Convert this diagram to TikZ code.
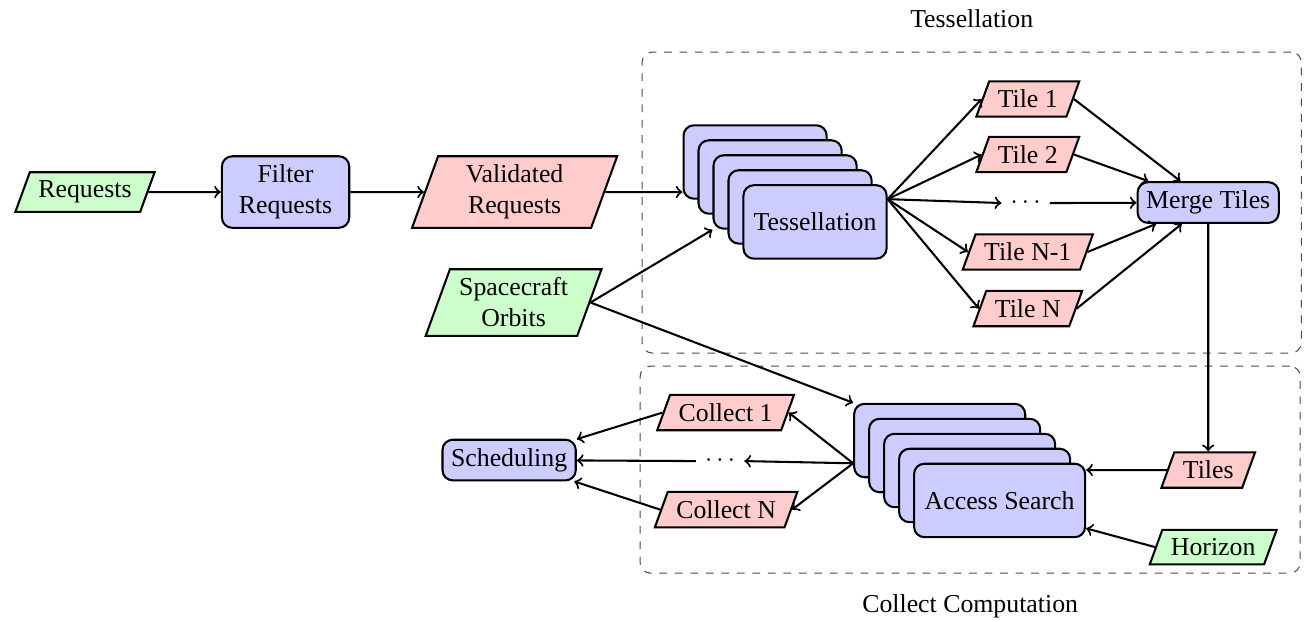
\documentclass[tikz,border=0pt]{standalone}
\usepackage{fontspec}
\setmainfont{Liberation Serif}
\usetikzlibrary{shapes.geometric,calc}

\tikzset{
    process/.style={draw, thick, rounded corners, fill=blue!20, align=center},
    stackbox/.style={process, minimum height=1.0cm},
    dataio/.style={draw, thick, trapezium, trapezium left angle=70, trapezium right angle=110, align=center},
    indata/.style={dataio, fill=green!20},
    outdata/.style={dataio, fill=red!20},
    groupbox/.style={draw=black!70, dashed, rounded corners},
    flow/.style={->, thick},
}

\begin{document}
\begin{tikzpicture}
    \useasboundingbox (0,0) rectangle (17.79,8.447);

    \node[groupbox, minimum width=8.98cm, minimum height=4.10cm] (tessgroup) at (13.236,5.688) {};
    \node[groupbox, minimum width=8.99cm, minimum height=2.82cm] (collgroup) at (13.215,2.050) {};
    \node[above=0.2cm] (tesslabel) at (tessgroup.north) {Tessellation};
    \node[below=0.16cm] (colllabel) at (collgroup.south) {Collect Computation};

    \node[indata] (requests) at (1.158,5.831) {Requests};
    \node[process, text width=1.5cm] (filter) at (3.890,5.831) {Filter\\Requests};
    \node[outdata, text width=1.85cm] (validated) at (7.010,5.831) {Validated\\Requests};
    \node[indata, text width=1.5cm] (orbits) at (6.996,4.326) {Spacecraft\\Orbits};

    \foreach \i in {1,...,4}
        \node[stackbox, minimum width=1.95cm] (tess\i) at ({10.286+0.204*(\i-1)},{6.240-0.204*(\i-1)}) {};
    \node[stackbox, minimum width=1.95cm] (tess5) at (11.102,5.424) {Tessellation};

    \node[outdata] (tile1) at (14.0,7.098) {Tile 1};
    \node[outdata] (tile2) at (14.0,6.342) {Tile 2};
    \node (tdots) at (13.97,5.681) {$\cdots$};
    \node[outdata] (tilen1) at (14.0,5.014) {Tile N-1};
    \node[outdata] (tilen) at (14.0,4.244) {Tile N};
    \node[process] (merge) at (16.458,5.688) {Merge Tiles};

    \foreach \i in {1,...,4}
        \node[stackbox, minimum width=2.33cm] (access\i) at ({12.800+0.204*(\i-1)},{2.446-0.204*(\i-1)}) {};
    \node[stackbox, minimum width=2.33cm] (access5) at (13.616,1.630) {Access Search};

    \node[outdata] (tiles) at (16.458,2.044) {Tiles};
    \node[indata] (horizon) at (16.526,0.995) {Horizon};
    \node[outdata] (collect1) at (9.884,2.827) {Collect 1};
    \node (cdots) at (9.809,2.166) {$\cdots$};
    \node[outdata] (collectn) at (9.891,1.505) {Collect N};
    \node[process] (sched) at (6.935,2.180) {Scheduling};

    \coordinate (tessout) at ($(tess5.north east)+(0,-0.204)$);
    \coordinate (accin) at ($(access1.south west)+(0,0.204)$);
    \coordinate (horin) at ($(access5.south east)!0.13!(access5.north east)$);

    \draw[flow] (requests) -- (filter);
    \draw[flow] (filter) -- (validated);
    \draw[flow] (validated) -- (validated -| tess1.west);
    \draw[flow] (orbits.east) -- (tess3.south west);
    \draw[flow] (orbits.east) -- (access1.north west);

    \foreach \t in {tile1,tile2,tdots,tilen1,tilen} {
        \draw[flow] (tessout) -- (\t.west);
        \draw[flow] (\t.east) -- (merge);
    }

    \draw[flow] (merge) -- (tiles);
    \draw[flow] (tiles) -- (tiles -| access5.east);
    \draw[flow] (horizon.west) -- (horin);

    \foreach \c in {collect1,cdots,collectn} {
        \draw[flow] (accin) -- (\c.east);
        \draw[flow] (\c.west) -- (sched);
    }
\end{tikzpicture}
\end{document}
